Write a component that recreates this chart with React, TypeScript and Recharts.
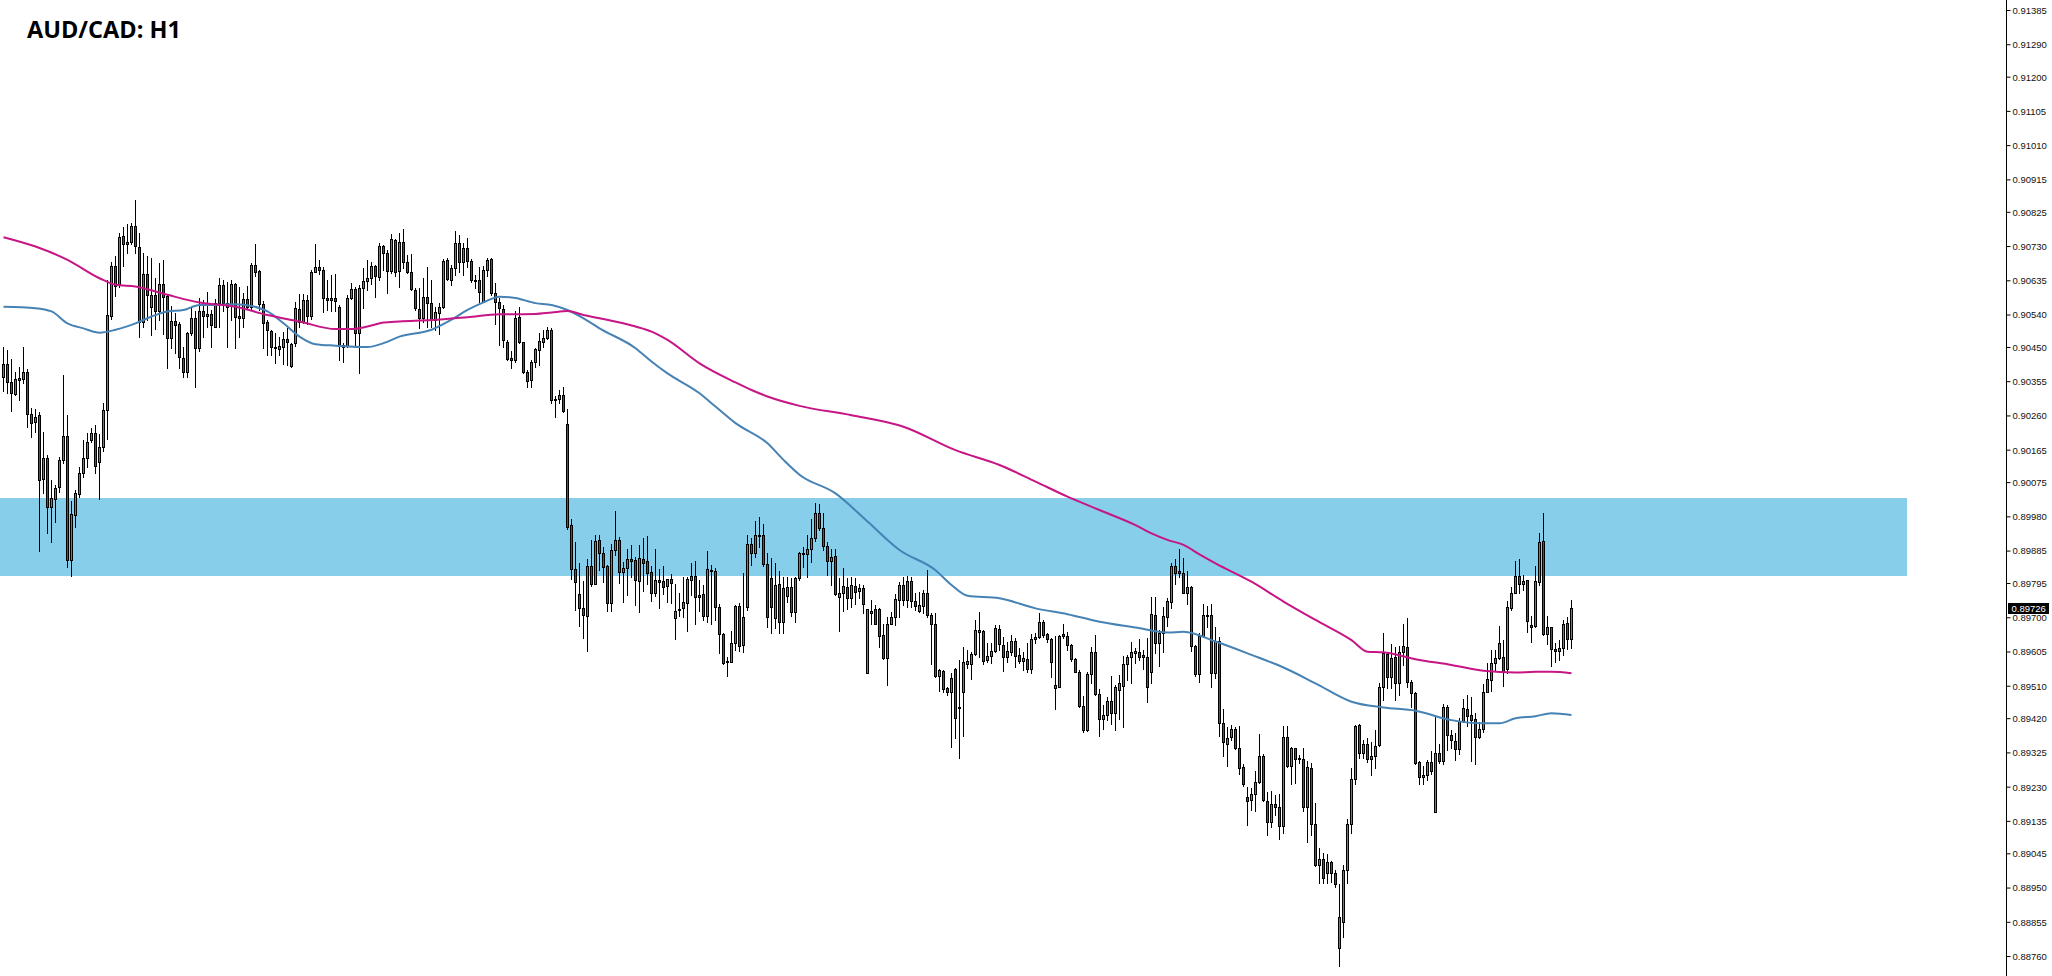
import React from 'react';
import { ComposedChart, Bar, Line, XAxis, YAxis, ReferenceArea, ReferenceLine } from 'recharts';

// Prices in points (1 point = 0.00001)
const opens = [
90367,90404,90354,90320,90360,90362,90381,90265,90243,90262,90085,90143,90007,90029,90062,90138,90205,89860,89985,90044,
90101,90143,90192,90212,90131,90173,90277,90538,90676,90623,90760,90736,90742,90787,90728,90522,90654,90563,90596,90550,
90625,90593,90476,90524,90515,90422,90383,90489,90533,90448,90551,90536,90543,90508,90573,90624,90573,90565,90625,90538,
90531,90584,90561,90678,90662,90570,90522,90497,90452,90445,90452,90473,90399,90462,90557,90520,90582,90538,90659,90673,
90665,90588,90581,90586,90563,90457,90454,90587,90613,90489,90614,90635,90642,90676,90645,90732,90711,90663,90748,90661,
90742,90686,90659,90610,90557,90531,90589,90573,90526,90545,90563,90693,90637,90670,90739,90688,90725,90690,90637,90637,
90577,90665,90695,90602,90575,90556,90466,90420,90415,90534,90465,90383,90360,90411,90443,90466,90476,90499,90307,90307,
90317,90238,89956,89834,89765,89726,89706,89845,89794,89915,89879,89843,89742,89887,89917,89828,89837,89862,89860,89803,
89862,89857,89826,89769,89804,89802,89789,89807,89698,89723,89726,89740,89806,89815,89762,89765,89706,89832,89829,89730,
89655,89576,89578,89629,89733,89624,89729,89904,89879,89927,89929,89848,89809,89698,89793,89689,89760,89784,89715,89811,
89876,89876,89890,89920,89990,89948,89900,89858,89871,89758,89770,89786,89754,89789,89775,89783,89548,89714,89724,89723,
89652,89587,89684,89703,89749,89791,89749,89802,89746,89720,89734,89768,89709,89684,89539,89553,89504,89493,89558,89451,
89493,89571,89571,89599,89661,89663,89583,89594,89608,89668,89624,89592,89606,89635,89596,89581,89585,89557,89640,89647,
89689,89654,89640,89506,89509,89655,89649,89624,89586,89550,89455,89388,89544,89606,89488,89418,89430,89470,89435,89500,
89510,89572,89590,89601,89606,89596,89592,89550,89708,89631,89657,89703,89745,89843,89830,89825,89770,89784,89621,89544,
89649,89705,89709,89546,89635,89407,89351,89368,89390,89338,89285,89202,89194,89210,89245,89316,89192,89134,89182,89174,
89122,89370,89289,89338,89312,89307,89174,89282,89128,89014,89032,88991,89021,88991,88785,88857,88999,89128,89252,89402,
89325,89349,89308,89317,89347,89507,89599,89536,89592,89520,89606,89620,89523,89490,89299,89257,89265,89299,89160,89324,
89303,89453,89375,89359,89335,89414,89446,89430,89418,89368,89390,89495,89527,89575,89587,89592,89557,89726,89769,89816,
89795,89805,89680,89677,89800,89914,89654,89673,89614,89609,89615,89686,89640
];
const highs = [
90452,90443,90418,90381,90395,90451,90391,90281,90279,90271,90215,90152,90082,90069,90147,90374,90263,90025,90055,90118,
90193,90212,90226,90235,90210,90295,90637,90686,90704,90767,90784,90792,90795,90858,90767,90711,90704,90698,90642,90684,
90693,90599,90565,90545,90522,90452,90494,90559,90550,90587,90582,90605,90554,90584,90642,90637,90633,90637,90628,90619,
90600,90621,90684,90737,90665,90580,90526,90499,90489,90480,90492,90503,90462,90575,90599,90598,90596,90665,90737,90693,
90673,90637,90650,90654,90568,90462,90596,90628,90619,90624,90670,90693,90688,90679,90741,90735,90720,90764,90750,90767,
90778,90707,90710,90614,90614,90642,90674,90637,90563,90573,90695,90697,90679,90772,90762,90739,90753,90695,90651,90674,
90676,90698,90697,90628,90587,90568,90471,90439,90550,90562,90466,90388,90415,90448,90489,90499,90508,90505,90316,90332,
90341,90279,89973,89909,89851,89802,89863,89915,89931,89931,89897,89847,89906,89995,89924,89854,89892,89902,89869,89903,
89920,89927,89843,89892,89834,89843,89808,89821,89795,89768,89812,89814,89851,89857,89804,89791,89885,89846,89837,89738,
89657,89590,89663,89735,89740,89823,89930,89920,89969,89980,89960,89879,89865,89853,89830,89814,89814,89811,89814,89883,
89897,89930,89973,90019,90017,89990,89911,89890,89890,89809,89837,89809,89814,89809,89795,89791,89723,89749,89735,89726,
89684,89703,89715,89766,89800,89814,89816,89814,89768,89772,89777,89832,89714,89714,89558,89555,89509,89546,89560,89583,
89620,89610,89606,89694,89717,89666,89629,89629,89680,89680,89647,89634,89652,89643,89615,89606,89629,89654,89657,89712,
89694,89658,89645,89650,89652,89683,89661,89626,89587,89555,89483,89550,89620,89652,89501,89458,89481,89538,89513,89541,
89595,89597,89632,89615,89640,89610,89643,89758,89758,89666,89731,89754,89851,89862,89890,89865,89830,89788,89624,89658,
89738,89732,89738,89673,89647,89446,89398,89402,89398,89400,89294,89231,89229,89276,89377,89322,89217,89220,89208,89211,
89399,89399,89342,89340,89319,89338,89303,89296,89187,89060,89048,89044,89025,89000,88960,89014,89143,89282,89402,89404,
89361,89365,89354,89388,89520,89657,89606,89627,89620,89622,89683,89700,89527,89495,89303,89289,89305,89331,89424,89351,
89461,89458,89388,89379,89421,89474,89487,89481,89435,89412,89516,89575,89610,89610,89677,89638,89747,89784,89858,89862,
89819,89806,89705,89844,89934,89992,89705,89675,89631,89638,89694,89701,89749
];
const lows = [
90328,90323,90275,90317,90305,90351,90229,90201,90215,89884,90045,89934,89911,89967,90050,90129,89840,89817,89953,90036,
90090,90118,90189,90103,90029,90164,90196,90528,90594,90617,90677,90711,90737,90713,90478,90508,90526,90485,90501,90526,
90488,90392,90448,90434,90392,90367,90369,90485,90340,90441,90480,90508,90451,90506,90508,90552,90452,90526,90448,90480,
90508,90559,90554,90649,90554,90448,90428,90429,90408,90428,90404,90402,90397,90454,90508,90517,90515,90528,90658,90654,
90548,90554,90550,90550,90415,90411,90452,90584,90452,90378,90559,90610,90626,90591,90637,90665,90600,90656,90647,90619,
90670,90656,90610,90554,90503,90522,90508,90508,90499,90488,90559,90637,90624,90651,90658,90651,90674,90633,90614,90577,
90575,90647,90596,90514,90457,90452,90415,90392,90411,90462,90378,90340,90341,90397,90402,90452,90473,90297,90258,90297,
90272,89946,89808,89721,89678,89644,89608,89788,89793,89832,89800,89719,89718,89875,89797,89744,89763,89814,89735,89717,
89774,89793,89747,89760,89728,89767,89743,89742,89642,89706,89703,89664,89763,89682,89718,89694,89689,89684,89695,89603,
89572,89539,89576,89610,89608,89606,89721,89846,89868,89897,89844,89673,89657,89671,89659,89659,89745,89706,89687,89805,
89842,89814,89856,89914,89943,89888,89819,89791,89763,89664,89720,89723,89731,89738,89754,89712,89548,89684,89683,89620,
89585,89513,89683,89680,89703,89735,89731,89731,89721,89717,89712,89703,89573,89536,89498,89495,89487,89342,89365,89310,
89372,89560,89529,89597,89590,89571,89578,89574,89606,89610,89553,89576,89597,89564,89574,89555,89550,89546,89629,89645,
89647,89634,89536,89446,89507,89643,89610,89581,89549,89453,89384,89387,89518,89487,89372,89390,89416,89405,89388,89418,
89398,89527,89518,89574,89583,89557,89467,89518,89601,89567,89606,89677,89726,89795,89812,89768,89738,89609,89538,89523,
89646,89673,89507,89532,89372,89316,89289,89361,89335,89266,89233,89125,89166,89164,89242,89191,89097,89120,89153,89085,
89102,89287,89239,89242,89296,89165,89079,89097,89011,88963,88963,88963,88966,88952,88734,88813,88965,89102,89239,89310,
89310,89301,89264,89284,89344,89472,89504,89506,89472,89486,89569,89509,89453,89294,89238,89240,89250,89266,89160,89296,
89294,89333,89340,89305,89322,89412,89399,89303,89294,89367,89384,89493,89498,89555,89585,89511,89546,89721,89768,89768,
89777,89661,89634,89675,89791,89652,89627,89566,89578,89584,89596,89612,89615
];
const closes = [
90404,90354,90323,90362,90364,90381,90265,90240,90256,90082,90143,90007,90032,90059,90137,90205,89860,89987,90045,90103,
90143,90189,90212,90121,90173,90277,90540,90676,90621,90757,90736,90743,90787,90732,90520,90654,90596,90596,90550,90625,
90591,90476,90524,90511,90423,90383,90491,90533,90448,90551,90536,90543,90511,90573,90624,90573,90562,90625,90534,90531,
90584,90561,90678,90658,90570,90519,90499,90451,90448,90454,90473,90466,90460,90559,90520,90582,90538,90659,90673,90665,
90587,90582,90586,90580,90454,90452,90587,90613,90489,90614,90635,90642,90676,90647,90732,90711,90663,90750,90659,90744,
90686,90659,90612,90559,90531,90589,90573,90526,90548,90563,90691,90639,90670,90739,90688,90725,90690,90637,90636,90603,
90665,90693,90602,90575,90559,90471,90418,90415,90531,90466,90383,90358,90411,90445,90468,90476,90499,90305,90305,90317,
90275,89953,89834,89800,89726,89709,89845,89794,89912,89879,89842,89742,89887,89917,89828,89837,89862,89858,89806,89865,
89853,89825,89769,89804,89800,89786,89807,89797,89718,89721,89743,89807,89815,89758,89758,89706,89834,89830,89730,89654,
89575,89580,89629,89733,89623,89703,89904,89881,89929,89929,89848,89703,89731,89791,89689,89783,89784,89715,89811,89879,
89879,89890,89920,89990,89948,89900,89858,89868,89765,89770,89788,89754,89791,89772,89783,89738,89723,89719,89684,89649,
89587,89684,89703,89752,89791,89749,89802,89746,89734,89735,89768,89709,89683,89539,89555,89501,89493,89532,89421,89453,
89576,89580,89599,89666,89666,89581,89594,89608,89671,89626,89592,89608,89635,89595,89581,89587,89559,89640,89646,89689,
89652,89640,89578,89513,89649,89649,89624,89586,89550,89455,89388,89544,89606,89488,89418,89430,89470,89435,89507,89518,
89572,89590,89606,89607,89592,89590,89507,89710,89629,89657,89705,89746,89843,89825,89823,89770,89784,89622,89544,89649,
89708,89709,89546,89635,89409,89354,89367,89390,89338,89282,89238,89191,89210,89245,89317,89194,89134,89183,89174,89122,
89370,89289,89338,89307,89307,89174,89287,89128,89014,89032,88979,89021,88991,88960,88869,88999,89128,89252,89399,89325,
89349,89307,89317,89345,89507,89601,89536,89589,89518,89604,89622,89523,89490,89298,89257,89265,89299,89276,89324,89303,
89453,89375,89361,89335,89414,89449,89427,89416,89368,89390,89495,89529,89575,89587,89629,89550,89729,89769,89816,89795,
89803,89692,89675,89803,89911,89654,89673,89613,89609,89615,89684,89640,89726
];

// Moving averages (points), read at sampled candle indices
const slowMaIndex = [0,8,16,24,28,33,41,49,58,66,74,83,87,91,95,99,107,116,124,133,137,141,145,149,158,162,166,174,183,187,191,199,212,225,238,249,258,266,274,283,287,291,295,299,303,312,320,328,337,341,345,353,362,370,378,383,387,392];
const slowMaValue = [90756,90730,90693,90642,90624,90619,90596,90575,90563,90540,90522,90501,90501,90508,90519,90522,90526,90534,90542,90543,90547,90551,90540,90531,90508,90494,90471,90406,90353,90332,90314,90288,90262,90230,90165,90124,90078,90036,89999,89957,89934,89916,89902,89876,89851,89800,89745,89694,89638,89606,89604,89585,89569,89553,89548,89550,89550,89546];
const fastMaIndex = [0,8,12,16,20,24,28,33,37,41,45,49,53,58,62,66,70,74,78,83,91,95,99,107,112,116,120,124,128,133,137,141,145,149,158,162,166,174,178,183,191,195,199,208,216,224,233,237,241,249,258,266,274,283,291,295,303,312,320,328,337,345,353,362,370,374,378,383,387,392];
const fastMaValue = [90563,90559,90550,90517,90503,90491,90499,90517,90536,90550,90554,90568,90568,90570,90565,90550,90517,90480,90459,90455,90451,90462,90480,90499,90527,90554,90575,90591,90587,90573,90568,90554,90531,90503,90448,90411,90378,90323,90286,90240,90184,90138,90097,90045,89967,89888,89832,89791,89761,89754,89726,89710,89689,89673,89659,89661,89634,89597,89562,89518,89467,89451,89442,89416,89407,89407,89421,89427,89435,89430];

const yTicks = [0.91385,0.91290,0.91200,0.91105,0.91010,0.90915,0.90825,0.90730,0.90635,0.90540,0.90450,0.90355,0.90260,0.90165,0.90075,0.89980,0.89885,0.89795,0.89700,0.89605,0.89510,0.89420,0.89325,0.89230,0.89135,0.89045,0.88950,0.88855,0.88760];

const zoneTop = 0.90032;
const zoneBottom = 0.89816;
const lastPrice = 0.89726;
const title = 'AUD/CAD: H1';

const P = 100000;
const data: any[] = opens.map((o, i) => {
  const op = o / P, cl = closes[i] / P;
  const hi = Math.max(highs[i] / P, op, cl);
  const lo = Math.min(lows[i] / P, op, cl);
  return { i, o: op, h: hi, l: lo, c: cl, range: [lo, hi], slow: null, fast: null };
});
slowMaIndex.forEach((idx, k) => { data[idx].slow = slowMaValue[k] / P; });
fastMaIndex.forEach((idx, k) => { data[idx].fast = fastMaValue[k] / P; });

const UP = '#34a834';
const DOWN = '#dc1a1a';

const Candle = (props: any) => {
  const { x, y, width, height, payload } = props;
  if (!payload || x == null || y == null) return null;
  const { o, h, l, c } = payload;
  const yHi = Math.min(y, y + height);
  const yLo = Math.max(y, y + height);
  const span = h - l;
  const pix = (v: number) => (span === 0 ? yHi : yHi + ((h - v) / span) * (yLo - yHi));
  const X = Math.round(x + width / 2 - 1.5);
  const yO = pix(o), yC = pix(c);
  const top = Math.round(Math.min(yO, yC));
  const bot = Math.round(Math.max(yO, yC));
  const hb = Math.max(bot - top, 1);
  return (
    <g>
      <line x1={X + 1.5} x2={X + 1.5} y1={Math.round(yHi)} y2={Math.round(yLo) + 1} stroke="#000" strokeWidth={1} />
      <rect x={X + 0.5} y={top + 0.5} width={2} height={hb} fill={c >= o ? UP : DOWN} stroke="#000" strokeWidth={1} />
    </g>
  );
};

const AxisTick = (props: any) => {
  const { x, y, payload } = props;
  return (
    <text x={x} y={y} dy={3.4} textAnchor="start" fontFamily="'Liberation Sans', Arial, sans-serif" fontSize={9.5} fill="#111">
      {Number(payload.value).toFixed(5)}
    </text>
  );
};

const PriceTag = (props: any) => {
  const vb = props.viewBox || {};
  const ax = (vb.x || 0) + (vb.width || 0);
  const cy = vb.y || 0;
  return (
    <g>
      <rect x={ax + 1.5} y={Math.round(cy) - 5} width={41} height={11} fill="#000" />
      <text x={ax + 5} y={Math.round(cy) + 4} fontFamily="'Liberation Sans', Arial, sans-serif" fontSize={9.5} fill="#fff">
        {lastPrice.toFixed(5)}
      </text>
    </g>
  );
};

export default function App() {
  return (
    <div style={{ position: 'absolute', left: 0, top: 0, width: 2052, height: 976, background: '#fff', overflow: 'hidden' }}>
      <ComposedChart width={2052} height={976} data={data} margin={{ top: 0, right: 0, bottom: 0, left: 0 }}>
        <XAxis dataKey="i" type="number" domain={[-0.875, 500.75]} hide allowDataOverflow />
        <YAxis
          orientation="right"
          width={45.5}
          domain={[0.88706, 0.914141]}
          allowDataOverflow
          ticks={yTicks}
          interval={0}
          tickSize={4}
          tickMargin={2}
          axisLine={{ stroke: '#000', strokeWidth: 1 }}
          tickLine={{ stroke: '#000', strokeWidth: 1 }}
          tick={<AxisTick />}
        />
        <ReferenceArea x1={-0.875} x2={475.875} y1={zoneBottom} y2={zoneTop} fill="#87ceeb" fillOpacity={1} stroke="none" ifOverflow="extendDomain" />
        <Line dataKey="fast" type="monotone" stroke="#4682b4" strokeWidth={2} dot={false} connectNulls isAnimationActive={false} />
        <Line dataKey="slow" type="monotone" stroke="#c71585" strokeWidth={2} dot={false} connectNulls isAnimationActive={false} />
        <Bar dataKey="range" barSize={3} shape={<Candle />} isAnimationActive={false} />
        <ReferenceLine y={lastPrice} stroke="#000" strokeOpacity={0} label={PriceTag} />
      </ComposedChart>
      <svg width={320} height={60} style={{ position: 'absolute', left: 0, top: 0 }}>
        <text x={27} y={38} fontFamily="'Open Sans', sans-serif" fontWeight={700} fontSize={23.5} fill="#000">{title}</text>
      </svg>
    </div>
  );
}
